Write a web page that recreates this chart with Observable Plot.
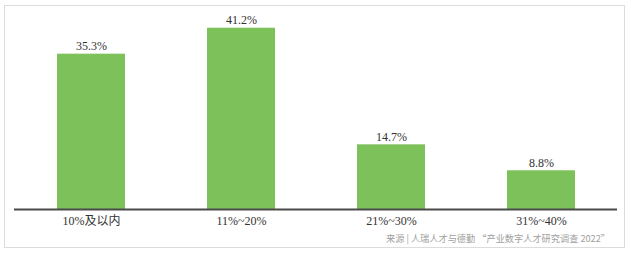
<!DOCTYPE html>
<html>
<head>
<meta charset="utf-8">
<script src="https://cdn.jsdelivr.net/npm/d3@7"></script>
<script src="https://cdn.jsdelivr.net/npm/@observablehq/plot@0.6"></script>
<style>
  html, body { margin: 0; padding: 0; background: #fff; }
  #wrap { position: relative; width: 630px; height: 253px; overflow: hidden; }
  #frame { position: absolute; left: 4px; top: 5px; width: 619px; height: 241px; border: 1.5px solid #dcdcdc; box-sizing: content-box; pointer-events: none; }
  #chart { position: absolute; left: 0; top: 0; }
  #source { position: absolute; right: 20px; top: 231px; font-family: "Noto Sans CJK SC", sans-serif; font-size: 9.2px; color: #a0a0a0; white-space: nowrap; line-height: 14px; }
</style>
</head>
<body>
<div id="wrap">
  <div id="frame"></div>
  <div id="chart"></div>
  <div id="source">来源 | 人瑞人才与德勤 “产业数字人才研究调查 2022”</div>
</div>
<script>
const categories = ["10%及以内", "11%~20%", "21%~30%", "31%~40%"];
const values = [35.3, 41.2, 14.7, 8.8];
const valueLabels = ["35.3%", "41.2%", "14.7%", "8.8%"];

const data = categories.map((c, i) => ({category: c, value: values[i], label: valueLabels[i]}));

const chart = Plot.plot({
  width: 630,
  height: 253,
  marginLeft: 14,
  marginRight: 13,
  marginTop: 11,
  marginBottom: 44,
  style: {fontFamily: "'Liberation Serif', 'Noto Sans CJK SC', serif", fontSize: "12px", color: "#333", background: "transparent"},
  x: {domain: categories, paddingInner: 0.548, paddingOuter: 0.277, label: null, tickSize: 0, tickPadding: 7},
  y: {domain: [0, 45], axis: null},
  marks: [
    Plot.barY(data, {x: "category", y: "value", fill: "#7dc15b"}),
    Plot.ruleY([0], {stroke: "#4a4a4a", strokeWidth: 2}),
    Plot.text(data, {x: "category", y: "value", text: "label", lineAnchor: "bottom", dy: -4, fill: "#333", fontSize: 12})
  ]
});
document.getElementById("chart").appendChild(chart);
</script>
</body>
</html>
